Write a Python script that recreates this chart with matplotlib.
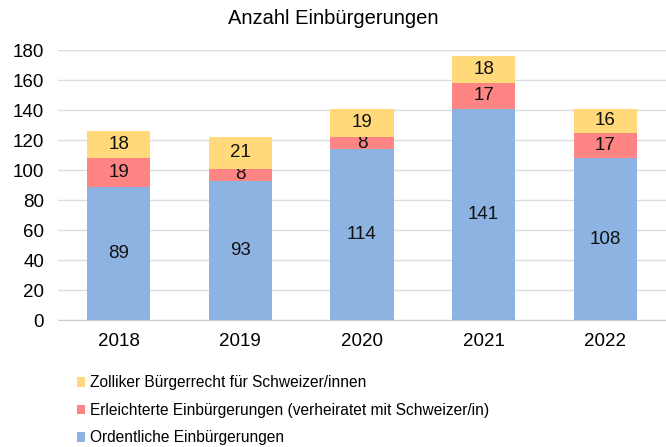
import numpy as np
import matplotlib.pyplot as plt

years = ['2018', '2019', '2020', '2021', '2022']
ordentlich = np.array([89, 93, 114, 141, 108])
erleichtert = np.array([19, 8, 8, 17, 17])
zolliker = np.array([18, 21, 19, 18, 16])

labels = ['Ordentliche Einbürgerungen',
          'Erleichterte Einbürgerungen (verheiratet mit Schweizer/in)',
          'Zolliker Bürgerrecht für Schweizer/innen']
colors = ['#8DB3E2', '#FF8585', '#FFD97A']

plt.rcParams['font.family'] = ['Liberation Sans', 'DejaVu Sans']

fig = plt.figure(figsize=(6.66, 4.47), dpi=100)
ax = fig.add_axes([0.087, 0.284, 0.913, 0.604])

x = np.arange(len(years))
width = 0.52
bottom = np.zeros(len(years))
bars = []
for vals, lab, col in zip([ordentlich, erleichtert, zolliker], labels, colors):
    b = ax.bar(x, vals, width, bottom=bottom, color=col, label=lab, zorder=3)
    ax.bar_label(b, labels=[str(v) for v in vals], label_type='center',
                 fontsize=13.5, color='#111111')
    bars.append(b)
    bottom = bottom + vals

ax.set_xlim(-0.5, len(years) - 0.5)
ax.set_ylim(0, 180)
ax.set_yticks(np.arange(0, 181, 20))
ax.set_xticks(x)
ax.set_xticklabels(years)
ax.tick_params(axis='both', length=0, labelsize=13.5, pad=10)
ax.tick_params(axis='x', pad=9)
ax.grid(axis='y', color='#DDDDDD', linewidth=1, zorder=0)
for s in ['top', 'right', 'left']:
    ax.spines[s].set_visible(False)
ax.spines['bottom'].set_color('#CCCCCC')

fig.text(0.5, 0.958, 'Anzahl Einbürgerungen', ha='center', va='center', fontsize=14.5)

handles = [bars[2], bars[1], bars[0]]
fig.legend(handles, [labels[2], labels[1], labels[0]], loc='upper left',
           bbox_to_anchor=(0.115, 0.16), frameon=False, fontsize=11.2,
           handlelength=0.55, handleheight=0.55, handletextpad=0.3,
           labelspacing=0.8, borderpad=0, borderaxespad=0)

fig.savefig('out.png', dpi=100)
